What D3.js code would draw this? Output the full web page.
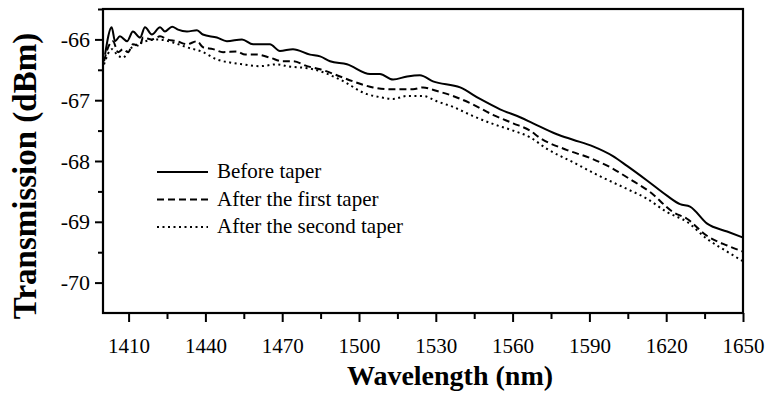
<!DOCTYPE html>
<html><head><meta charset="utf-8">
<script src="https://cdn.jsdelivr.net/npm/d3@7"></script>
<style>body{margin:0;background:#fff;} svg{display:block;} svg text{font-family:"Liberation Serif","Times New Roman",Times,serif;}</style>
</head><body>
<svg id="c" width="769" height="406"></svg>
<script>
const seriesNames = ["Before taper", "After the first taper", "After the second taper"];
const beforeWl = [1400.8,1403.4,1404.7,1406.6,1409.4,1411.7,1414.5,1416.4,1419.1,1422.3,1424.2,1427,1429.3,1432.8,1436.7,1439,1444.5,1448.4,1454.3,1458.6,1465.2,1469.1,1474.2,1480.9,1484.8,1488.7,1495.3,1504.3,1508.2,1513.3,1518.8,1523.8,1528.9,1539.5,1547.3,1555.1,1562.9,1568,1577.3,1583.6,1591.4,1599.2,1604.7,1612.5,1620.3,1625.4,1629.3,1636,1643.8,1650];
const beforeVal = [-66.25,-65.80,-66.03,-65.95,-66.03,-65.87,-65.97,-65.80,-65.92,-65.80,-65.87,-65.79,-65.84,-65.87,-65.85,-65.92,-65.97,-66.03,-66.00,-66.08,-66.08,-66.19,-66.16,-66.25,-66.28,-66.36,-66.41,-66.57,-66.57,-66.66,-66.61,-66.59,-66.69,-66.79,-66.98,-67.15,-67.28,-67.38,-67.56,-67.65,-67.76,-67.92,-68.08,-68.32,-68.57,-68.71,-68.75,-69.03,-69.16,-69.26];
const firstWl = [1400.4,1402,1403.9,1405.9,1407.8,1409.8,1411.7,1414.5,1415.6,1419.1,1422.3,1425,1428.9,1432.8,1436.7,1439.1,1443,1446.9,1452.3,1455.5,1460.2,1465.2,1470.3,1474.2,1479.7,1484.8,1492.6,1497.7,1505.5,1512.1,1521.1,1525,1530.5,1536.7,1544.5,1552.3,1560.2,1566.8,1570.7,1581.3,1590.2,1598,1605.9,1613.7,1622.7,1628.1,1635.9,1643.8,1650];
const firstVal = [-66.36,-66.13,-66.03,-66.21,-66.16,-66.21,-66.08,-66.11,-65.97,-66.00,-65.95,-66.00,-66.03,-66.08,-66.03,-66.13,-66.16,-66.21,-66.20,-66.25,-66.25,-66.30,-66.36,-66.36,-66.44,-66.49,-66.61,-66.69,-66.79,-66.82,-66.82,-66.79,-66.85,-66.93,-67.07,-67.24,-67.38,-67.50,-67.62,-67.82,-67.95,-68.10,-68.30,-68.51,-68.84,-68.95,-69.23,-69.39,-69.49];
const secondWl = [1400.4,1403.5,1405.5,1407.8,1410.5,1415.2,1421.1,1427.3,1432.8,1439.1,1444.5,1449.6,1454.7,1461.3,1468,1471.9,1482,1492.6,1503.1,1508.2,1513.3,1518.8,1525,1530.5,1536.7,1544.5,1552.3,1560.2,1566.8,1573.4,1583.6,1594.1,1604.7,1612.5,1620.3,1628.1,1635.9,1643.8,1650];
const secondVal = [-66.41,-66.16,-66.25,-66.30,-66.16,-66.05,-66.00,-66.05,-66.13,-66.21,-66.33,-66.38,-66.41,-66.44,-66.41,-66.44,-66.49,-66.66,-66.90,-66.95,-66.98,-66.93,-66.93,-67.02,-67.11,-67.26,-67.39,-67.50,-67.61,-67.80,-68.02,-68.25,-68.46,-68.62,-68.84,-69.00,-69.28,-69.49,-69.65];
const xMajorTicks = [1410,1440,1470,1500,1530,1560,1590,1620,1650];
const xMinorTicks = [1425,1455,1485,1515,1545,1575,1605,1635];
const yMajorTicks = [-66,-67,-68,-69,-70];
const yMinorTicks = [-65.5,-66.5,-67.5,-68.5,-69.5];

const svg = d3.select("#c");
const L = 103, R = 743, T = 9, B = 313;
const x = d3.scaleLinear().domain([1400,1650]).range([L,R]);
const y = d3.scaleLinear().domain([-70.5,-65.5]).range([B,T]);
const font = '"Liberation Serif","Times New Roman",Times,serif';

// minor ticks
svg.append("g").attr("transform",`translate(0,${B})`)
  .call(d3.axisBottom(x).tickValues(xMinorTicks).tickSize(6).tickFormat(""))
  .call(g=>{g.select(".domain").remove(); g.selectAll("line").attr("stroke","#000").attr("stroke-width",2);});
svg.append("g").attr("transform",`translate(${L},0)`)
  .call(d3.axisLeft(y).tickValues(yMinorTicks).tickSize(5).tickFormat(""))
  .call(g=>{g.select(".domain").remove(); g.selectAll("line").attr("stroke","#000").attr("stroke-width",2);});
// major ticks
const xa = svg.append("g").attr("transform",`translate(0,${B})`)
  .call(d3.axisBottom(x).tickValues(xMajorTicks).tickSize(9).tickPadding(16).tickFormat(d3.format("d")));
xa.attr("font-family",null).attr("font-size",null);
xa.select(".domain").remove();
xa.selectAll("line").attr("stroke","#000").attr("stroke-width",2);
xa.selectAll("text").style("font-family",font).style("font-size","21px").attr("fill","#000");
const ya = svg.append("g").attr("transform",`translate(${L},0)`)
  .call(d3.axisLeft(y).tickValues(yMajorTicks).tickSize(8).tickPadding(5).tickFormat(d=>String(d)));
ya.attr("font-family",null).attr("font-size",null);
ya.select(".domain").remove();
ya.selectAll("line").attr("stroke","#000").attr("stroke-width",2);
ya.selectAll("text").style("font-family",font).style("font-size","22px").attr("fill","#000");

// frame
svg.append("rect").attr("x",L).attr("y",T).attr("width",R-L).attr("height",B-T)
  .attr("fill","none").attr("stroke","#000").attr("stroke-width",2.2);

// lines
const series = [
  {wl: beforeWl, v: beforeVal, dash: null},
  {wl: firstWl, v: firstVal, dash: "7,4"},
  {wl: secondWl, v: secondVal, dash: "2,3.5"}
];
const line = d3.line().x(d=>x(d[0])).y(d=>y(d[1])).curve(d3.curveMonotoneX);
series.forEach(s=>{
  const pts = s.wl.map((w,i)=>[w,s.v[i]]);
  svg.append("path").datum(pts).attr("d",line).attr("fill","none").attr("stroke","#000")
    .attr("stroke-width",2).attr("stroke-dasharray",s.dash);
});

// legend
const lg = svg.append("g");
seriesNames.forEach((n,i)=>{
  const by = 178 + i*27.5;
  lg.append("line").attr("x1",157).attr("x2",208).attr("y1",by-6).attr("y2",by-6)
    .attr("stroke","#000").attr("stroke-width",2).attr("stroke-dasharray",series[i].dash);
  lg.append("text").attr("x",217).attr("y",by).style("font-family",font).style("font-size","21px").text(n);
});

// axis titles
svg.append("text").attr("x",450).attr("y",385).attr("text-anchor","middle")
  .style("font-family",font).style("font-weight","bold").style("font-size","28px").text("Wavelength (nm)");
svg.append("text").attr("transform","translate(36,176) rotate(-90)").attr("text-anchor","middle")
  .style("font-family",font).style("font-weight","bold").style("font-size","33px").text("Transmission (dBm)");
</script>
</body></html>
